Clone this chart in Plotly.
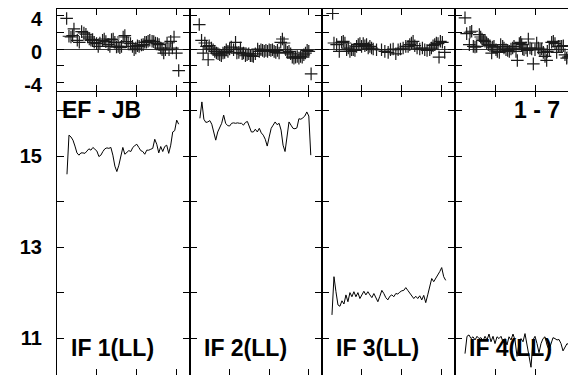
import plotly.graph_objects as go

# ---------------- data ----------------
panel_labels = ["IF 1(LL)", "IF 2(LL)", "IF 3(LL)", "IF 4(LL)"]
baseline_label = "EF - JB"
source_label = "1 - 7"

# scan times (minutes) for the amplitude curves
scan_min = [15, 18, 21, 24, 27, 30, 33, 36, 39, 42, 45, 48, 51, 54, 57, 60, 63, 66, 69, 72,
            75, 78, 81, 84, 87, 90, 93, 96, 99, 102, 105, 108, 111, 114, 117, 120, 123, 126,
            129, 132, 135, 138, 141, 144, 147, 150, 153, 156, 159, 162, 165, 168, 171, 174,
            177, 180, 183, 186]

amp_if1 = [14.60, 15.46, 15.42, 15.35, 15.22, 15.07, 15.02, 15.07, 15.07, 15.06, 15.11, 15.16,
           15.13, 15.19, 15.15, 15.11, 14.99, 15.02, 15.10, 15.16, 15.18, 15.17, 15.19, 15.02,
           14.78, 14.66, 14.80, 14.99, 15.19, 15.04, 15.09, 15.12, 15.10, 15.19, 15.23, 15.26,
           15.19, 15.12, 15.10, 15.04, 15.13, 15.13, 15.15, 15.17, 15.37, 15.26, 15.07, 15.21,
           15.10, 15.21, 15.24, 15.06, 15.24, 15.53, 15.56, 15.79, 15.70]
amp_if2 = [15.83, 16.19, 15.81, 15.74, 15.75, 15.78, 15.70, 15.53, 15.35, 15.53, 15.61, 15.72,
           15.90, 15.72, 15.67, 15.66, 15.72, 15.73, 15.72, 15.73, 15.72, 15.72, 15.68, 15.74,
           15.76, 15.64, 15.53, 15.53, 15.59, 15.53, 15.61, 15.51, 15.46, 15.37, 15.22, 15.42,
           15.61, 15.68, 15.75, 15.69, 15.72, 15.57, 15.24, 15.10, 15.42, 15.75, 15.68, 15.61,
           15.60, 15.62, 15.82, 15.81, 15.84, 15.88, 15.97, 15.88, 15.02]
amp_if3 = [11.51, 12.35, 12.02, 11.73, 11.70, 11.82, 11.75, 11.95, 11.80, 12.00, 11.91, 12.02,
           11.91, 12.00, 11.87, 11.96, 12.03, 11.95, 12.02, 11.95, 11.89, 11.98, 11.87, 11.80,
           11.92, 12.05, 11.98, 11.89, 11.84, 11.92, 11.95, 11.91, 11.98, 11.97, 12.01, 12.04,
           12.05, 12.11, 12.05, 11.98, 11.94, 11.87, 11.92, 11.87, 11.93, 11.84, 11.94, 11.78,
           11.95, 12.16, 12.31, 12.24, 12.31, 12.36, 12.46, 12.55, 12.35, 12.27]
amp_if4 = [10.66, 11.04, 11.07, 10.99, 11.03, 10.96, 11.04, 10.99, 11.01, 10.94, 11.04, 10.96,
           11.09, 10.92, 11.04, 10.88, 11.03, 10.99, 11.04, 10.92, 10.99, 10.85, 11.03, 10.96,
           11.09, 10.96, 10.60, 10.88, 10.99, 10.92, 11.10, 10.88, 10.59, 10.36, 10.96, 11.04,
           10.88, 10.68, 10.88, 10.99, 11.03, 10.85, 10.74, 10.90, 11.01, 10.99, 10.96, 10.97,
           10.88, 10.72, 10.82, 10.88, 10.85, 10.92, 11.18, 11.29, 11.40]

# residuals (time in minutes, residual value)
res_t_if1 = [14.5, 18, 21, 23.5, 25.5, 30.5, 33.5, 37, 40.5, 43.5, 46, 48.5, 51, 53.5, 56, 59.5,
             62, 64.5, 68.5, 71, 73.5, 77, 79.5, 82, 84.5, 87, 89.5, 92, 94.5, 97, 99.5, 102,
             104.5, 107, 110.5, 113.5, 116, 118.5, 121, 123.5, 127, 129.5, 132, 134.5, 137,
             139.5, 143, 145.5, 148, 151, 153.5, 156, 158, 160.5, 163, 165.5, 168.5, 171,
             173.5, 176, 179.5, 183]
res_v_if1 = [3.68, 1.54, 1.45, 1.62, 2.42, 1.05, 0.81, 2.10, 1.94, 1.78, 1.45, 1.21, 1.05, 1.13,
             0.81, 0.65, 0.32, 0.73, 1.05, 1.21, 0.89, 0.53, 0.32, 1.13, 1.21, 0.81, 0.24, 0.32,
             0.16, 0.32, 1.45, 1.62, 0.89, 0.73, 0.65, 0.32, -0.08, 0.12, 0.40, 0.32, 0.48,
             0.53, 0.81, 0.81, 0.93, 1.05, 0.93, 0.89, 0.73, 0.65, 0.53, 0.12, -0.08, -0.48,
             -0.08, 0.73, -0.08, 0.93, 0.12, 1.45, -0.48, -2.59]

res_t_if2 = [14, 17.5, 20, 22.5, 25, 27.5, 29, 32.5, 35, 37.5, 40, 42.5, 45, 47.5, 50, 52.5, 55,
             57.5, 60, 62.5, 66, 69, 71, 74, 76.5, 79, 81, 84, 86.5, 89, 91.5, 94, 96, 99,
             102.5, 105, 107.5, 110, 112.5, 115, 117.5, 120, 122.5, 125, 127.5, 130, 132.5,
             135, 137.5, 140, 142.5, 145, 147.5, 150, 152.5, 155, 157.5, 160, 162.5, 165,
             167.5, 170, 172.5, 175, 177.5, 180, 183.5]
res_v_if2 = [2.95, 1.05, -0.48, 0.73, 0.32, -1.29, 0.40, 0.12, -0.08, -0.28, -0.48, -0.57, -0.69,
             -0.81, -0.48, -0.40, -0.08, -0.28, 0.00, 0.24, -0.08, 0.81, -0.48, -0.40, 0.12,
             -0.57, -0.48, -0.81, -0.69, -0.57, -0.81, -0.81, -0.89, -0.57, 0.00, -0.28, -0.08,
             -0.16, -0.28, -0.16, -0.28, -0.08, -0.16, -0.08, -0.28, -0.40, -0.16, -0.48, 0.81,
             1.21, 0.73, -0.08, -0.40, -0.28, -0.57, -0.97, -1.09, -0.97, -0.89, -1.09, -0.89,
             -0.97, -0.69, -0.48, -0.16, -0.28, -2.99]

res_t_if3 = [16, 18, 22, 26, 29.5, 32, 34.5, 37, 39.5, 42, 44.5, 47, 49.5, 52, 54.5, 57, 59.5,
             62, 64.5, 67, 69.5, 72, 74.5, 77, 82, 89.5, 94.5, 99.5, 103, 107, 111, 114.5, 118,
             122, 126, 129.5, 132, 134.5, 137, 139.5, 143, 147, 151, 154.5, 158, 162, 164.5,
             167, 169.5, 172, 174.5, 176, 178, 181, 184.5]
res_v_if3 = [4.28, 0.73, 0.53, -0.28, 0.81, 0.93, 0.73, -0.08, 0.12, -0.28, -0.08, -0.08, -0.16,
             0.32, 0.53, 0.65, 0.32, 0.65, 0.40, 0.53, 0.12, 0.32, 0.12, 0.00, -0.08, -0.08,
             -0.28, -0.40, -0.08, 0.00, -0.57, -0.08, 0.00, 0.12, 0.32, 0.32, 0.53, 0.73, 0.93,
             0.40, 0.12, 0.00, 0.12, -0.08, -0.16, -0.08, 0.12, 0.40, 0.53, 0.73, 0.65, -0.97,
             0.93, 0.81, -0.40]

res_t_if4 = [15, 17.5, 21.5, 22.5, 25, 27.5, 30, 32.5, 36.5, 38.5, 40.5, 42.5, 45, 47.5, 50,
             52.5, 55, 56.5, 58.5, 61.5, 63.5, 66.5, 68.5, 71.5, 73.5, 76.5, 79, 81.5, 84, 86.5,
             88.5, 91.5, 93.5, 96.5, 98.5, 100, 101.5, 103.5, 106.5, 108.5, 110, 112.5, 115,
             117.5, 120, 122.5, 125, 127.5, 130, 132.5, 135, 137.5, 138.5, 141.5, 145, 147.5,
             150, 152.5, 155, 157.5, 160, 162.5, 165, 167.5, 170, 172.5, 175, 177.5, 180]
res_v_if4 = [3.76, 1.86, 0.53, 2.02, 2.14, 0.32, 0.24, 0.32, 1.74, 1.45, 1.21, 1.05, 0.93, 0.73,
             0.53, 0.40, -0.48, 0.24, 0.32, -0.08, -0.28, -0.40, 0.53, 0.32, 0.12, -0.08, -0.16,
             -0.28, 0.00, 0.12, 0.32, -0.28, -1.37, 0.65, 0.81, 0.53, 0.00, -0.08, 0.12, -0.16,
             1.21, 0.12, 0.00, -1.78, -0.08, 0.73, 0.12, -0.08, 0.00, -0.40, -0.89, -1.37,
             -0.28, -0.08, 0.81, 0.93, 0.65, -0.40, 0.32, 0.32, 0.32, 0.40, -0.69, -1.09, -0.97,
             -0.89, -0.69, -0.81, -0.97]

amp_series = [amp_if1, amp_if2, amp_if3, amp_if4]
res_series = [(res_t_if1, res_v_if1), (res_t_if2, res_v_if2),
              (res_t_if3, res_v_if3), (res_t_if4, res_v_if4)]

# ---------------- layout ----------------
# the page body has an 8px margin, so the figure is sized to fill the rest of the window
W, H = 568, 367
OFF = 8
col_scr = [(57, 190), (190, 322), (322, 455), (455, 576)]
x_ranges = [[0, 200], [0, 200], [0, 200], [0, 181.5]]
res_dom = [1 - (91 - OFF) / H, 1 - (9 - OFF) / H]
amp_dom = [0, 1 - (91 - OFF) / H]
res_range = [-5.05, 4.82]
amp_range = [10.19, 16.43]

FONT = dict(family="Liberation Sans, Arial, sans-serif", size=20, color="black", weight="bold")

fig = go.Figure()
layout = dict(width=W, height=H, margin=dict(l=0, r=0, t=0, b=0),
              paper_bgcolor="white", plot_bgcolor="white", showlegend=False)

for p in range(4):
    top = p + 1
    bot = p + 5
    t, v = res_series[p]
    fig.add_trace(go.Scatter(x=t, y=v, mode="markers",
                             marker=dict(symbol="cross-thin", size=9,
                                         line=dict(width=1.2, color="#1a1a1a")),
                             xaxis=f"x{top}", yaxis=f"y{top}"))
    amp = amp_series[p]
    fig.add_trace(go.Scatter(x=scan_min[:len(amp)], y=amp, mode="lines",
                             line=dict(color="black", width=1),
                             xaxis=f"x{bot}", yaxis=f"y{bot}"))

    dom = [(col_scr[p][0] - OFF) / W, min(1.0, (col_scr[p][1] - OFF) / W)]
    mirror_y = "ticks" if p < 3 else False
    common_x = dict(domain=dom, range=x_ranges[p], ticks="inside", ticklen=6,
                    tickcolor="black", tickwidth=1, tickvals=[60, 120, 180],
                    showticklabels=False, showgrid=False, zeroline=False,
                    linecolor="black", linewidth=1, automargin=False, fixedrange=True)
    layout[f"xaxis{top}"] = dict(common_x, anchor=f"y{top}", showline=True, mirror="ticks")
    layout[f"xaxis{bot}"] = dict(common_x, anchor=f"y{bot}", showline=False, mirror="ticks")

    common_y = dict(ticks="inside", ticklen=7, tickcolor="black", tickwidth=1,
                    showline=True, linecolor="black", linewidth=1, mirror=mirror_y,
                    showgrid=False, showticklabels=(p == 0), tickfont=FONT,
                    ticklabelstandoff=10, ticklabeloverflow="allow",
                    automargin=False, fixedrange=True)
    layout[f"yaxis{top}"] = dict(common_y, domain=res_dom, range=res_range,
                                 anchor=f"x{top}", tickvals=[-4, -2, 0, 2, 4],
                                 ticktext=["-4", "", "0", "", "4"], ticklabelshift=3,
                                 zeroline=True, zerolinecolor="#333", zerolinewidth=1)
    layout[f"yaxis{bot}"] = dict(common_y, domain=amp_dom, range=amp_range,
                                 anchor=f"x{bot}", tickvals=[11, 12, 13, 14, 15, 16],
                                 ticktext=["11", "", "13", "", "15", ""], zeroline=False)

ANN_FONT = dict(family="Liberation Sans, Arial, sans-serif", size=23, color="black", weight="bold")
annotations = [
    dict(text=baseline_label, x=(60 - OFF) / W, y=1 - (110 - OFF) / H, xref="paper",
         yref="paper", xanchor="left", yanchor="middle", showarrow=False, font=ANN_FONT),
    dict(text=source_label, x=(562 - OFF) / W, y=1 - (110 - OFF) / H, xref="paper",
         yref="paper", xanchor="right", yanchor="middle", showarrow=False, font=ANN_FONT),
]
for p in range(4):
    annotations.append(dict(text=panel_labels[p], x=(col_scr[p][0] + 12 - OFF) / W,
                            y=1 - (348 - OFF) / H, xref="paper", yref="paper",
                            xanchor="left", yanchor="middle", showarrow=False, font=ANN_FONT))
layout["annotations"] = annotations

fig.update_layout(**layout)
fig.write_html("out.html")
